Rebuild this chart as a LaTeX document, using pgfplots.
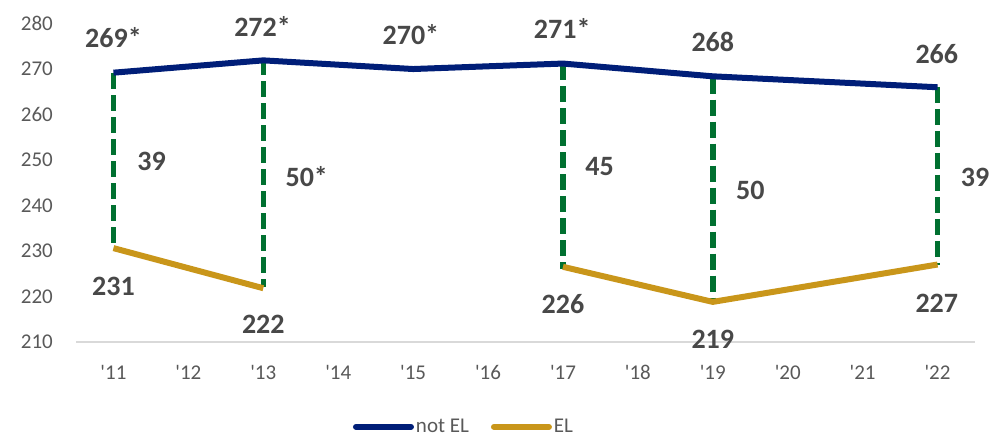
\documentclass[border=0pt]{standalone}
\usepackage{pgfplots}
\pgfplotsset{compat=1.18}
\usepackage{fontspec}
\setmainfont{Carlito}
\definecolor{navyline}{RGB}{0,30,120}
\definecolor{goldline}{RGB}{201,150,26}
\definecolor{gapgreen}{RGB}{0,112,48}
\definecolor{ticktext}{RGB}{89,89,89}
\definecolor{labeltext}{RGB}{72,72,72}
\definecolor{axisgray}{RGB}{217,217,217}
\begin{document}
\begin{tikzpicture}[x=1pt,y=1pt]
\path[use as bounding box] (0,0) rectangle (1006,439);
\begin{axis}[
  at={(76pt,97pt)}, anchor=south west,
  scale only axis, width=899pt, height=319pt,
  xmin=-0.5, xmax=11.5, ymin=210, ymax=280,
  ytick={210,220,...,280},
  xtick={0,...,11},
  xticklabels={\textquotesingle11,\textquotesingle12,\textquotesingle13,\textquotesingle14,\textquotesingle15,\textquotesingle16,\textquotesingle17,\textquotesingle18,\textquotesingle19,\textquotesingle20,\textquotesingle21,\textquotesingle22},
  axis x line*=bottom, axis y line*=left,
  x axis line style={draw=axisgray, line width=1.2pt, -},
  y axis line style={draw=none},
  major tick length=0pt,
  tick label style={font=\fontsize{21}{24}\selectfont, text=ticktext},
  /pgf/number format/assume math mode=true,
  yticklabel style={anchor=east, inner sep=0pt, xshift=-23pt},
  xticklabel style={anchor=north, inner sep=0pt, yshift=-23pt},
  unbounded coords=jump,
  clip=false,
  legend columns=2,
  legend style={at={(0.4316,-0.266)}, anchor=center, draw=none, fill=none,
    font=\fontsize{21}{24}\selectfont, text=ticktext,
    /tikz/every even column/.append style={column sep=20pt},
    inner sep=0pt},
  legend image code/.code={\draw[#1, line cap=round] (0pt,0pt) -- (55pt,0pt);},
]
% gap lines
\addplot[forget plot, color=gapgreen, line width=5.5pt, dash pattern=on 16pt off 6pt] coordinates {
  (0,269) (0,231) (0,nan)
  (2,272) (2,222) (2,nan)
  (6,271) (6,226) (6,nan)
  (8,268) (8,219) (8,nan)
  (11,266) (11,227)
};
\addplot[color=navyline, line width=6pt, line join=round] coordinates {
  (0,269.1) (2,271.8) (4,269.9) (6,271.1) (8,268.3) (11,265.9)
};
\addlegendentry{not EL}
\addplot[color=goldline, line width=6pt, line join=round] coordinates {
  (0,230.6) (2,221.8) (4,nan) (6,226.5) (8,218.8) (11,227.0)
};
\addlegendentry{EL}
% data labels
\begin{scope}[every node/.style={font=\fontsize{28}{30}\selectfont\bfseries, text=labeltext, inner sep=0pt, anchor=center}]
\node at (axis cs:0,276.7) {269*};
\node at (axis cs:1.99,279.2) {272*};
\node at (axis cs:3.97,277.4) {270*};
\node at (axis cs:5.99,278.9) {271*};
\node at (axis cs:8,275.8) {268};
\node at (axis cs:10.99,273.2) {266};
\node at (axis cs:0,222.2) {231};
\node at (axis cs:2,213.8) {222};
\node at (axis cs:6,218.3) {226};
\node at (axis cs:8,210.6) {219};
\node at (axis cs:10.99,218.5) {227};
\node at (axis cs:0.51,249.6) {39};
\node at (axis cs:2.58,246.3) {50*};
\node at (axis cs:6.49,248.4) {45};
\node at (axis cs:8.50,243.2) {50};
\node at (axis cs:11.5,246.1) {39};
\end{scope}
\end{axis}
\end{tikzpicture}
\end{document}
